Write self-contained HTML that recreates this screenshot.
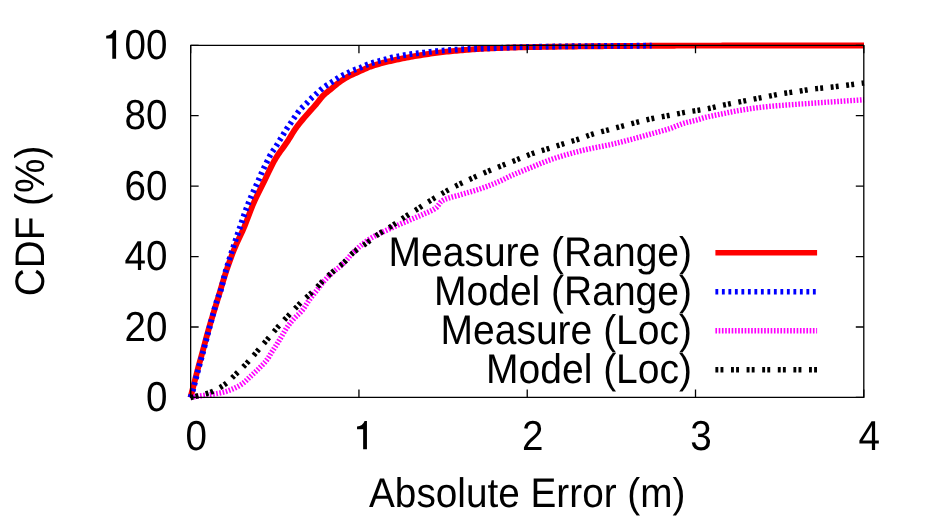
<!DOCTYPE html>
<html><head><meta charset="utf-8"><title>CDF of Absolute Error</title>
<style>
html,body{margin:0;padding:0;background:#fff;}
svg{will-change:transform;display:block;width:934px;height:522px;}
text{font-family:"Liberation Sans",sans-serif;font-size:39px;fill:#000;text-rendering:geometricPrecision;}
.c{fill:none;stroke-linejoin:round;stroke-linecap:butt;}
.ax{fill:none;stroke:#000;stroke-width:1.3;stroke-linecap:butt;stroke-linejoin:round;}
</style></head><body>
<svg width="934" height="522" viewBox="0 0 934 522">
<rect x="0" y="0" width="934" height="522" fill="#fff"/>
<text transform="translate(167.45,411.00) scale(0.99,1.075)" text-anchor="end">0</text>
<text transform="translate(167.45,341.00) scale(0.99,1.075)" text-anchor="end">20</text>
<text transform="translate(167.45,270.00) scale(0.99,1.075)" text-anchor="end">40</text>
<text transform="translate(167.45,200.00) scale(0.99,1.075)" text-anchor="end">60</text>
<text transform="translate(167.45,129.00) scale(0.99,1.075)" text-anchor="end">80</text>
<text transform="translate(167.45,59.00) scale(0.99,1.075)" text-anchor="end">00</text>
<path fill="#000" d="M116.10,30.30 L116.10,58.70 L112.30,58.70 L112.30,38.55 L106.20,38.55 L106.20,35.70 Q111.80,35.50 113.75,30.30 Z"/>
<text transform="translate(196.15,450.00) scale(0.99,1.075)" text-anchor="middle">0</text>
<path fill="#000" d="M366.94,421.05 L366.94,449.30 L363.14,449.30 L363.14,429.30 L357.04,429.30 L357.04,426.45 Q362.64,426.25 364.59,421.05 Z"/>
<text transform="translate(532.73,450.00) scale(0.99,1.075)" text-anchor="middle">2</text>
<text transform="translate(701.01,450.00) scale(0.99,1.075)" text-anchor="middle">3</text>
<text transform="translate(869.30,450.00) scale(0.99,1.075)" text-anchor="middle">4</text>
<text transform="translate(527.20,507.00) scale(0.993,1.06)" text-anchor="middle">Absolute Error (m)</text>
<text transform="translate(44.00,221.00) rotate(-90) scale(0.993,1.06)" text-anchor="middle">CDF (%)</text>
<text transform="translate(692.00,266.00) scale(1.0,1.06)" text-anchor="end">Measure (Range)</text>
<text transform="translate(692.00,305.00) scale(1.0,1.06)" text-anchor="end">Model (Range)</text>
<text transform="translate(692.00,344.00) scale(1.0,1.06)" text-anchor="end">Measure (Loc)</text>
<text transform="translate(692.00,383.00) scale(1.0,1.06)" text-anchor="end">Model (Loc)</text>
<path class="c" d="M190.5,397.50 L192.5,389.77 L194.5,381.89 L196.5,374.11 L198.5,366.58 L200.5,359.24 L202.5,351.93 L204.5,344.55 L206.5,337.12 L208.5,329.86 L210.5,322.93 L212.5,316.22 L214.5,309.65 L216.5,303.14 L218.5,296.59 L220.5,289.90 L222.5,283.13 L224.5,276.53 L226.5,270.35 L228.5,264.51 L230.5,258.90 L232.5,253.56 L234.5,248.51 L236.5,243.84 L238.5,239.48 L240.5,235.23 L242.5,230.90 L244.5,226.31 L246.5,221.28 L248.5,215.98 L250.5,210.67 L252.5,205.64 L254.5,201.08 L256.5,196.81 L258.5,192.73 L260.5,188.74 L262.5,184.77 L264.5,180.73 L266.5,176.55 L268.5,172.31 L270.5,168.13 L272.5,164.12 L274.5,160.39 L276.5,157.03 L278.5,153.98 L280.5,151.13 L282.5,148.39 L284.5,145.65 L286.5,142.83 L288.5,139.82 L290.5,136.58 L292.5,133.28 L294.5,130.09 L296.5,127.21 L298.5,124.59 L300.5,122.12 L302.5,119.75 L304.5,117.44 L306.5,115.12 L308.5,112.82 L310.5,110.59 L312.5,108.38 L314.5,106.13 L316.5,103.78 L318.5,101.21 L320.5,98.61 L322.5,96.23 L324.5,94.27 L326.5,92.57 L328.5,90.99 L330.5,89.40 L332.5,87.73 L334.5,86.03 L336.5,84.37 L338.5,82.79 L340.5,81.35 L342.5,80.01 L344.5,78.75 L346.5,77.56 L348.5,76.45 L350.5,75.43 L352.5,74.48 L354.5,73.58 L356.5,72.70 L358.5,71.82 L360.5,70.92 L362.5,69.99 L364.5,69.07 L366.5,68.18 L368.5,67.35 L370.5,66.59 L372.5,65.90 L374.5,65.25 L376.5,64.64 L378.5,64.06 L380.5,63.50 L382.5,62.96 L384.5,62.44 L386.5,61.94 L388.5,61.47 L390.5,61.01 L392.5,60.56 L394.5,60.12 L396.5,59.69 L398.5,59.27 L400.5,58.86 L402.5,58.45 L404.5,58.06 L406.5,57.67 L408.5,57.29 L410.5,56.92 L412.5,56.57 L414.5,56.21 L416.5,55.87 L418.5,55.54 L420.5,55.22 L422.5,54.90 L424.5,54.59 L426.5,54.28 L428.5,53.97 L430.5,53.67 L432.5,53.38 L434.5,53.11 L436.5,52.84 L438.5,52.58 L440.5,52.34 L442.5,52.11 L444.5,51.89 L446.5,51.67 L448.5,51.46 L450.5,51.26 L452.5,51.07 L454.5,50.88 L456.5,50.70 L458.5,50.53 L460.5,50.36 L462.5,50.20 L464.5,50.03 L466.5,49.87 L468.5,49.72 L470.5,49.57 L472.5,49.42 L474.5,49.28 L476.5,49.14 L478.5,49.01 L480.5,48.89 L482.5,48.78 L484.5,48.67 L486.5,48.58 L488.5,48.48 L490.5,48.39 L492.5,48.31 L494.5,48.22 L496.5,48.14 L498.5,48.06 L500.5,47.98 L502.5,47.91 L504.5,47.83 L506.5,47.76 L508.5,47.70 L510.5,47.63 L512.5,47.57 L514.5,47.51 L516.5,47.45 L518.5,47.40 L520.5,47.35 L522.5,47.30 L524.5,47.25 L526.5,47.21 L528.5,47.17 L530.5,47.13 L532.5,47.09 L534.5,47.05 L536.5,47.02 L538.5,46.98 L540.5,46.95 L542.5,46.91 L544.5,46.88 L546.5,46.85 L548.5,46.82 L550.5,46.79 L552.5,46.76 L554.5,46.73 L556.5,46.70 L558.5,46.67 L560.5,46.64 L562.5,46.62 L564.5,46.59 L566.5,46.57 L568.5,46.54 L570.5,46.52 L572.5,46.49 L574.5,46.47 L576.5,46.45 L578.5,46.42 L580.5,46.40 L582.5,46.38 L584.5,46.36 L586.5,46.34 L588.5,46.32 L590.5,46.30 L592.5,46.28 L594.5,46.26 L596.5,46.23 L598.5,46.21 L600.5,46.20 L602.5,46.18 L604.5,46.16 L606.5,46.14 L608.5,46.12 L610.5,46.10 L612.5,46.08 L614.5,46.06 L616.5,46.04 L618.5,46.03 L620.5,46.01 L622.5,45.99 L624.5,45.98 L626.5,45.96 L628.5,45.94 L630.5,45.93 L632.5,45.91 L634.5,45.90 L636.5,45.88 L638.5,45.87 L640.5,45.86 L642.5,45.84 L644.5,45.83 L646.5,45.82 L648.5,45.81 L650.5,45.80 L652.5,45.79 L654.5,45.78 L656.5,45.77 L658.5,45.75 L660.5,45.74 L662.5,45.73 L664.5,45.72 L666.5,45.71 L668.5,45.70 L670.5,45.69 L672.5,45.69 L674.5,45.68 L676.5,45.67 L678.5,45.66 L680.5,45.65 L682.5,45.64 L684.5,45.64 L686.5,45.63 L688.5,45.62 L690.5,45.62 L692.5,45.61 L694.5,45.61 L696.5,45.61 L698.5,45.60 L700.5,45.60 L702.5,45.60 L704.5,45.59 L706.5,45.59 L708.5,45.59 L710.5,45.59 L712.5,45.59 L714.5,45.58 L716.5,45.58 L718.5,45.58 L720.5,45.58 L722.5,45.57 L724.5,45.57 L726.5,45.57 L728.5,45.57 L730.5,45.57 L732.5,45.56 L734.5,45.56 L736.5,45.56 L738.5,45.56 L740.5,45.56 L742.5,45.55 L744.5,45.55 L746.5,45.55 L748.5,45.55 L750.5,45.55 L752.5,45.55 L754.5,45.54 L756.5,45.54 L758.5,45.54 L760.5,45.54 L762.5,45.54 L764.5,45.54 L766.5,45.54 L768.5,45.53 L770.5,45.53 L772.5,45.53 L774.5,45.53 L776.5,45.53 L778.5,45.53 L780.5,45.53 L782.5,45.52 L784.5,45.52 L786.5,45.52 L788.5,45.52 L790.5,45.52 L792.5,45.52 L794.5,45.52 L796.5,45.52 L798.5,45.52 L800.5,45.52 L802.5,45.51 L804.5,45.51 L806.5,45.51 L808.5,45.51 L810.5,45.51 L812.5,45.51 L814.5,45.51 L816.5,45.51 L818.5,45.51 L820.5,45.51 L822.5,45.51 L824.5,45.51 L826.5,45.51 L828.5,45.50 L830.5,45.50 L832.5,45.50 L834.5,45.50 L836.5,45.50 L838.5,45.50 L840.5,45.50 L842.5,45.50 L844.5,45.50 L846.5,45.50 L848.5,45.50 L850.5,45.50 L852.5,45.50 L854.5,45.50 L856.5,45.50 L858.5,45.50 L860.5,45.50 L862.5,45.50 L864.0,45.50" stroke="#ff0000" stroke-width="5.9"/>
<path class="c" d="M190.5,397.50 L192.5,391.88 L194.5,384.35 L196.5,376.25 L198.5,368.68 L200.5,361.38 L202.5,354.07 L204.5,346.61 L206.5,338.95 L208.5,331.34 L210.5,323.90 L212.5,316.28 L214.5,308.83 L216.5,301.99 L218.5,296.26 L220.5,291.26 L222.5,283.42 L224.5,275.19 L226.5,268.43 L228.5,262.10 L230.5,255.74 L232.5,249.50 L234.5,243.43 L236.5,237.48 L238.5,231.58 L240.5,225.70 L242.5,219.73 L244.5,213.78 L246.5,208.14 L248.5,202.93 L250.5,198.03 L252.5,193.36 L254.5,188.99 L256.5,184.71 L258.5,180.19 L260.5,175.43 L262.5,170.91 L264.5,166.73 L266.5,162.69 L268.5,158.67 L270.5,154.65 L272.5,151.43 L274.5,148.78 L276.5,145.61 L278.5,142.20 L280.5,138.97 L282.5,135.78 L284.5,132.39 L286.5,129.09 L288.5,126.24 L290.5,123.35 L292.5,120.26 L294.5,117.30 L296.5,114.50 L298.5,111.71 L300.5,109.14 L302.5,107.12 L304.5,105.36 L306.5,103.43 L308.5,101.22 L310.5,99.10 L312.5,97.24 L314.5,95.45 L316.5,93.61 L318.5,91.76 L320.5,90.01 L322.5,88.34 L324.5,86.80 L326.5,85.45 L328.5,84.21 L330.5,82.94 L332.5,81.61 L334.5,80.28 L336.5,78.97 L338.5,77.65 L340.5,76.42 L342.5,75.40 L344.5,74.51 L346.5,73.60 L348.5,72.58 L350.5,71.54 L352.5,70.60 L354.5,69.84 L356.5,69.17 L358.5,68.49 L360.5,67.70 L362.5,66.76 L364.5,65.79 L366.5,64.92 L368.5,64.19 L370.5,63.52 L372.5,62.89 L374.5,62.29 L376.5,61.73 L378.5,61.18 L380.5,60.65 L382.5,60.13 L384.5,59.61 L386.5,59.06 L388.5,58.46 L390.5,57.90 L392.5,57.43 L394.5,57.03 L396.5,56.65 L398.5,56.26 L400.5,55.83 L402.5,55.41 L404.5,55.05 L406.5,54.75 L408.5,54.48 L410.5,54.23 L412.5,53.97 L414.5,53.72 L416.5,53.48 L418.5,53.24 L420.5,53.00 L422.5,52.75 L424.5,52.51 L426.5,52.26 L428.5,52.02 L430.5,51.78 L432.5,51.55 L434.5,51.33 L436.5,51.13 L438.5,50.93 L440.5,50.76 L442.5,50.59 L444.5,50.43 L446.5,50.27 L448.5,50.12 L450.5,49.97 L452.5,49.84 L454.5,49.71 L456.5,49.59 L458.5,49.48 L460.5,49.38 L462.5,49.28 L464.5,49.19 L466.5,49.10 L468.5,49.02 L470.5,48.95 L472.5,48.87 L474.5,48.80 L476.5,48.73 L478.5,48.66 L480.5,48.59 L482.5,48.52 L484.5,48.45 L486.5,48.38 L488.5,48.31 L490.5,48.23 L492.5,48.16 L494.5,48.08 L496.5,48.00 L498.5,47.92 L500.5,47.85 L502.5,47.77 L504.5,47.69 L506.5,47.62 L508.5,47.54 L510.5,47.47 L512.5,47.40 L514.5,47.34 L516.5,47.27 L518.5,47.21 L520.5,47.16 L522.5,47.10 L524.5,47.05 L526.5,47.01 L528.5,46.97 L530.5,46.93 L532.5,46.89 L534.5,46.85 L536.5,46.82 L538.5,46.78 L540.5,46.74 L542.5,46.71 L544.5,46.67 L546.5,46.64 L548.5,46.61 L550.5,46.58 L552.5,46.55 L554.5,46.52 L556.5,46.49 L558.5,46.46 L560.5,46.43 L562.5,46.40 L564.5,46.37 L566.5,46.35 L568.5,46.32 L570.5,46.30 L572.5,46.27 L574.5,46.25 L576.5,46.23 L578.5,46.20 L580.5,46.18 L582.5,46.16 L584.5,46.14 L586.5,46.12 L588.5,46.10 L590.5,46.08 L592.5,46.06 L594.5,46.05 L596.5,46.03 L598.5,46.01 L600.5,46.00 L602.5,45.98 L604.5,45.96 L606.5,45.95 L608.5,45.93 L610.5,45.92 L612.5,45.90 L614.5,45.89 L616.5,45.88 L618.5,45.86 L620.5,45.85 L622.5,45.84 L624.5,45.82 L626.5,45.81 L628.5,45.80 L630.5,45.79 L632.5,45.78 L634.5,45.77 L636.5,45.76 L638.5,45.75 L640.5,45.74 L642.5,45.73 L644.5,45.72 L646.5,45.72 L648.5,45.71 L650.5,45.70 L651.7,45.70" stroke="#0000ff" stroke-width="5.8" stroke-dasharray="2.85 3.65"/>
<path class="c" d="M190.5,397.60 L192.5,397.18 L194.5,396.82 L196.5,396.51 L198.5,396.22 L200.5,395.91 L202.5,395.60 L204.5,395.30 L206.5,395.00 L208.5,394.72 L210.5,394.46 L212.5,394.20 L214.5,393.92 L216.5,393.60 L218.5,393.24 L220.5,392.84 L222.5,392.40 L224.5,391.90 L226.5,391.32 L228.5,390.63 L230.5,389.87 L232.5,389.05 L234.5,388.19 L236.5,387.25 L238.5,386.22 L240.5,385.06 L242.5,383.74 L244.5,382.11 L246.5,380.25 L248.5,378.31 L250.5,376.42 L252.5,374.59 L254.5,372.75 L256.5,370.86 L258.5,368.91 L260.5,366.89 L262.5,364.86 L264.5,362.72 L266.5,360.34 L268.5,357.54 L270.5,354.10 L272.5,350.92 L274.5,347.89 L276.5,344.82 L278.5,341.57 L280.5,338.24 L282.5,334.89 L284.5,331.40 L286.5,328.09 L288.5,325.25 L290.5,322.68 L292.5,320.30 L294.5,318.06 L296.5,316.07 L298.5,314.23 L300.5,312.32 L302.5,310.12 L304.5,307.35 L306.5,304.15 L308.5,301.01 L310.5,298.28 L312.5,295.74 L314.5,293.26 L316.5,290.73 L318.5,288.11 L320.5,285.51 L322.5,283.02 L324.5,280.72 L326.5,278.53 L328.5,276.43 L330.5,274.45 L332.5,272.60 L334.5,270.92 L336.5,269.33 L338.5,267.74 L340.5,266.07 L342.5,264.24 L344.5,262.23 L346.5,260.02 L348.5,257.64 L350.5,255.29 L352.5,253.21 L354.5,251.27 L356.5,249.39 L358.5,247.57 L360.5,245.82 L362.5,244.15 L364.5,242.56 L366.5,241.07 L368.5,239.67 L370.5,238.39 L372.5,237.20 L374.5,236.08 L376.5,235.03 L378.5,234.02 L380.5,233.06 L382.5,232.13 L384.5,231.22 L386.5,230.31 L388.5,229.40 L390.5,228.47 L392.5,227.54 L394.5,226.64 L396.5,225.75 L398.5,224.87 L400.5,224.00 L402.5,223.13 L404.5,222.27 L406.5,221.41 L408.5,220.55 L410.5,219.68 L412.5,218.83 L414.5,217.99 L416.5,217.16 L418.5,216.32 L420.5,215.46 L422.5,214.58 L424.5,213.67 L426.5,212.80 L428.5,211.96 L430.5,211.08 L432.5,210.09 L434.5,208.92 L436.5,207.48 L438.5,204.99 L440.5,202.27 L442.5,200.62 L444.5,199.62 L446.5,198.78 L448.5,198.08 L450.5,197.47 L452.5,196.92 L454.5,196.41 L456.5,195.90 L458.5,195.35 L460.5,194.74 L462.5,194.13 L464.5,193.54 L466.5,192.96 L468.5,192.39 L470.5,191.81 L472.5,191.24 L474.5,190.65 L476.5,190.04 L478.5,189.40 L480.5,188.73 L482.5,188.04 L484.5,187.32 L486.5,186.59 L488.5,185.83 L490.5,185.06 L492.5,184.26 L494.5,183.44 L496.5,182.61 L498.5,181.75 L500.5,180.88 L502.5,179.93 L504.5,178.92 L506.5,177.90 L508.5,176.91 L510.5,175.97 L512.5,175.09 L514.5,174.22 L516.5,173.38 L518.5,172.55 L520.5,171.73 L522.5,170.92 L524.5,170.12 L526.5,169.31 L528.5,168.51 L530.5,167.70 L532.5,166.87 L534.5,166.04 L536.5,165.21 L538.5,164.37 L540.5,163.55 L542.5,162.74 L544.5,161.95 L546.5,161.18 L548.5,160.43 L550.5,159.73 L552.5,159.04 L554.5,158.37 L556.5,157.72 L558.5,157.09 L560.5,156.46 L562.5,155.86 L564.5,155.27 L566.5,154.69 L568.5,154.12 L570.5,153.56 L572.5,153.02 L574.5,152.48 L576.5,151.96 L578.5,151.44 L580.5,150.94 L582.5,150.45 L584.5,149.97 L586.5,149.50 L588.5,149.04 L590.5,148.59 L592.5,148.16 L594.5,147.76 L596.5,147.37 L598.5,146.98 L600.5,146.61 L602.5,146.23 L604.5,145.84 L606.5,145.44 L608.5,145.03 L610.5,144.59 L612.5,144.13 L614.5,143.66 L616.5,143.17 L618.5,142.68 L620.5,142.17 L622.5,141.66 L624.5,141.14 L626.5,140.62 L628.5,140.09 L630.5,139.57 L632.5,139.04 L634.5,138.50 L636.5,137.96 L638.5,137.41 L640.5,136.86 L642.5,136.30 L644.5,135.74 L646.5,135.18 L648.5,134.62 L650.5,134.06 L652.5,133.51 L654.5,132.96 L656.5,132.42 L658.5,131.88 L660.5,131.33 L662.5,130.77 L664.5,130.20 L666.5,129.60 L668.5,128.98 L670.5,128.33 L672.5,127.61 L674.5,126.82 L676.5,126.01 L678.5,125.19 L680.5,124.40 L682.5,123.68 L684.5,123.05 L686.5,122.51 L688.5,122.01 L690.5,121.55 L692.5,121.08 L694.5,120.59 L696.5,120.06 L698.5,119.46 L700.5,118.83 L702.5,118.20 L704.5,117.63 L706.5,117.13 L708.5,116.65 L710.5,116.20 L712.5,115.77 L714.5,115.36 L716.5,114.95 L718.5,114.55 L720.5,114.15 L722.5,113.74 L724.5,113.33 L726.5,112.91 L728.5,112.50 L730.5,112.10 L732.5,111.70 L734.5,111.31 L736.5,110.93 L738.5,110.57 L740.5,110.23 L742.5,109.89 L744.5,109.57 L746.5,109.25 L748.5,108.94 L750.5,108.64 L752.5,108.35 L754.5,108.08 L756.5,107.82 L758.5,107.58 L760.5,107.35 L762.5,107.12 L764.5,106.91 L766.5,106.70 L768.5,106.50 L770.5,106.31 L772.5,106.12 L774.5,105.94 L776.5,105.77 L778.5,105.61 L780.5,105.46 L782.5,105.32 L784.5,105.17 L786.5,105.03 L788.5,104.89 L790.5,104.75 L792.5,104.61 L794.5,104.46 L796.5,104.32 L798.5,104.17 L800.5,104.03 L802.5,103.89 L804.5,103.75 L806.5,103.60 L808.5,103.47 L810.5,103.33 L812.5,103.19 L814.5,103.05 L816.5,102.92 L818.5,102.78 L820.5,102.65 L822.5,102.52 L824.5,102.38 L826.5,102.25 L828.5,102.11 L830.5,101.98 L832.5,101.84 L834.5,101.70 L836.5,101.57 L838.5,101.44 L840.5,101.30 L842.5,101.17 L844.5,101.03 L846.5,100.90 L848.5,100.77 L850.5,100.65 L852.5,100.52 L854.5,100.39 L856.5,100.26 L858.5,100.12 L860.5,99.98 L862.5,99.82 L864.0,99.70" stroke="#ff00ff" stroke-width="5.4" stroke-dasharray="1.65 1.6"/>
<path class="c" d="M190.5,397.50 L192.5,397.07 L194.5,396.62 L196.5,396.15 L198.5,395.66 L200.5,395.16 L202.5,394.63 L204.5,394.10 L206.5,393.56 L208.5,392.98 L210.5,392.30 L212.5,391.50 L214.5,390.57 L216.5,389.55 L218.5,388.42 L220.5,387.21 L222.5,385.92 L224.5,384.56 L226.5,383.02 L228.5,381.28 L230.5,379.39 L232.5,377.43 L234.5,375.46 L236.5,373.54 L238.5,371.61 L240.5,369.65 L242.5,367.65 L244.5,365.61 L246.5,363.51 L248.5,361.33 L250.5,359.07 L252.5,356.77 L254.5,354.44 L256.5,352.12 L258.5,349.80 L260.5,347.47 L262.5,345.13 L264.5,342.79 L266.5,340.44 L268.5,338.07 L270.5,335.67 L272.5,333.26 L274.5,330.87 L276.5,328.52 L278.5,326.22 L280.5,324.01 L282.5,321.84 L284.5,319.72 L286.5,317.61 L288.5,315.52 L290.5,313.42 L292.5,311.30 L294.5,309.16 L296.5,307.03 L298.5,304.93 L300.5,302.88 L302.5,300.93 L304.5,299.08 L306.5,297.31 L308.5,295.55 L310.5,293.76 L312.5,291.89 L314.5,289.88 L316.5,287.75 L318.5,285.57 L320.5,283.40 L322.5,281.30 L324.5,279.33 L326.5,277.44 L328.5,275.60 L330.5,273.80 L332.5,272.04 L334.5,270.29 L336.5,268.58 L338.5,266.97 L340.5,265.39 L342.5,263.75 L344.5,261.97 L346.5,259.92 L348.5,257.55 L350.5,255.21 L352.5,253.26 L354.5,251.59 L356.5,250.07 L358.5,248.66 L360.5,247.30 L362.5,245.96 L364.5,244.58 L366.5,243.13 L368.5,241.61 L370.5,240.07 L372.5,238.52 L374.5,237.00 L376.5,235.54 L378.5,234.16 L380.5,232.88 L382.5,231.65 L384.5,230.46 L386.5,229.28 L388.5,228.07 L390.5,226.82 L392.5,225.50 L394.5,224.13 L396.5,222.72 L398.5,221.30 L400.5,219.89 L402.5,218.51 L404.5,217.17 L406.5,215.88 L408.5,214.62 L410.5,213.37 L412.5,212.13 L414.5,210.88 L416.5,209.62 L418.5,208.33 L420.5,207.01 L422.5,205.69 L424.5,204.36 L426.5,203.04 L428.5,201.75 L430.5,200.49 L432.5,199.24 L434.5,198.01 L436.5,196.79 L438.5,195.59 L440.5,194.41 L442.5,193.25 L444.5,192.12 L446.5,191.00 L448.5,189.90 L450.5,188.81 L452.5,187.74 L454.5,186.69 L456.5,185.66 L458.5,184.65 L460.5,183.66 L462.5,182.68 L464.5,181.72 L466.5,180.78 L468.5,179.85 L470.5,178.93 L472.5,178.02 L474.5,177.12 L476.5,176.22 L478.5,175.33 L480.5,174.46 L482.5,173.59 L484.5,172.73 L486.5,171.88 L488.5,171.04 L490.5,170.21 L492.5,169.38 L494.5,168.57 L496.5,167.76 L498.5,166.97 L500.5,166.17 L502.5,165.38 L504.5,164.59 L506.5,163.80 L508.5,163.01 L510.5,162.22 L512.5,161.44 L514.5,160.66 L516.5,159.87 L518.5,159.09 L520.5,158.30 L522.5,157.50 L524.5,156.69 L526.5,155.87 L528.5,155.06 L530.5,154.28 L532.5,153.53 L534.5,152.83 L536.5,152.17 L538.5,151.54 L540.5,150.94 L542.5,150.35 L544.5,149.76 L546.5,149.16 L548.5,148.56 L550.5,147.93 L552.5,147.29 L554.5,146.65 L556.5,146.00 L558.5,145.35 L560.5,144.71 L562.5,144.07 L564.5,143.44 L566.5,142.83 L568.5,142.23 L570.5,141.63 L572.5,141.03 L574.5,140.43 L576.5,139.81 L578.5,139.16 L580.5,138.49 L582.5,137.77 L584.5,137.02 L586.5,136.27 L588.5,135.53 L590.5,134.82 L592.5,134.16 L594.5,133.55 L596.5,132.99 L598.5,132.45 L600.5,131.93 L602.5,131.42 L604.5,130.91 L606.5,130.39 L608.5,129.87 L610.5,129.33 L612.5,128.80 L614.5,128.27 L616.5,127.73 L618.5,127.20 L620.5,126.67 L622.5,126.13 L624.5,125.60 L626.5,125.06 L628.5,124.52 L630.5,123.97 L632.5,123.44 L634.5,122.90 L636.5,122.38 L638.5,121.87 L640.5,121.37 L642.5,120.86 L644.5,120.37 L646.5,119.88 L648.5,119.40 L650.5,118.94 L652.5,118.51 L654.5,118.09 L656.5,117.70 L658.5,117.32 L660.5,116.96 L662.5,116.60 L664.5,116.24 L666.5,115.88 L668.5,115.51 L670.5,115.12 L672.5,114.74 L674.5,114.35 L676.5,113.96 L678.5,113.57 L680.5,113.19 L682.5,112.81 L684.5,112.44 L686.5,112.09 L688.5,111.75 L690.5,111.43 L692.5,111.13 L694.5,110.83 L696.5,110.54 L698.5,110.24 L700.5,109.93 L702.5,109.61 L704.5,109.27 L706.5,108.90 L708.5,108.50 L710.5,108.05 L712.5,107.59 L714.5,107.11 L716.5,106.63 L718.5,106.16 L720.5,105.71 L722.5,105.28 L724.5,104.87 L726.5,104.47 L728.5,104.07 L730.5,103.68 L732.5,103.29 L734.5,102.90 L736.5,102.50 L738.5,102.10 L740.5,101.70 L742.5,101.29 L744.5,100.89 L746.5,100.48 L748.5,100.09 L750.5,99.69 L752.5,99.30 L754.5,98.92 L756.5,98.55 L758.5,98.18 L760.5,97.81 L762.5,97.44 L764.5,97.07 L766.5,96.69 L768.5,96.31 L770.5,95.91 L772.5,95.51 L774.5,95.10 L776.5,94.70 L778.5,94.31 L780.5,93.94 L782.5,93.60 L784.5,93.28 L786.5,92.99 L788.5,92.71 L790.5,92.44 L792.5,92.17 L794.5,91.90 L796.5,91.62 L798.5,91.32 L800.5,91.00 L802.5,90.67 L804.5,90.32 L806.5,89.98 L808.5,89.65 L810.5,89.34 L812.5,89.06 L814.5,88.82 L816.5,88.61 L818.5,88.41 L820.5,88.22 L822.5,88.03 L824.5,87.85 L826.5,87.66 L828.5,87.45 L830.5,87.23 L832.5,87.01 L834.5,86.77 L836.5,86.53 L838.5,86.29 L840.5,86.04 L842.5,85.79 L844.5,85.54 L846.5,85.28 L848.5,85.01 L850.5,84.74 L852.5,84.46 L854.5,84.19 L856.5,83.92 L858.5,83.66 L860.5,83.42 L862.5,83.18 L864.0,83.00" stroke="#000000" stroke-width="5.4" stroke-dasharray="2.9 2.2 2.9 7.6"/>
<path class="c" d="M715.4,252.8 L817.1,252.8" stroke="#ff0000" stroke-width="5.4"/>
<path class="c" d="M715.4,291.8 L817.1,291.8" stroke="#0000ff" stroke-width="5.4" stroke-dasharray="2.85 3.65"/>
<path class="c" d="M715.4,330.8 L817.1,330.8" stroke="#ff00ff" stroke-width="5.4" stroke-dasharray="1.65 1.6"/>
<path class="c" d="M715.4,369.7 L817.1,369.7" stroke="#000000" stroke-width="5.4" stroke-dasharray="2.9 2.2 2.9 7.6"/>
<path class="ax" d="M190.65,45.3 L190.65,397.4 L863.8,397.4 L863.8,45.3 Z"/>
<path class="ax" d="M190.65,397.40 h8 M863.8,397.40 h-8 M190.65,326.98 h8 M863.8,326.98 h-8 M190.65,256.56 h8 M863.8,256.56 h-8 M190.65,186.14 h8 M863.8,186.14 h-8 M190.65,115.72 h8 M863.8,115.72 h-8 M190.65,45.30 h8 M863.8,45.30 h-8 M190.65,397.4 v-8 M190.65,45.3 v8 M358.94,397.4 v-8 M358.94,45.3 v8 M527.23,397.4 v-8 M527.23,45.3 v8 M695.51,397.4 v-8 M695.51,45.3 v8 M863.80,397.4 v-8 M863.80,45.3 v8"/>
</svg></body></html>
